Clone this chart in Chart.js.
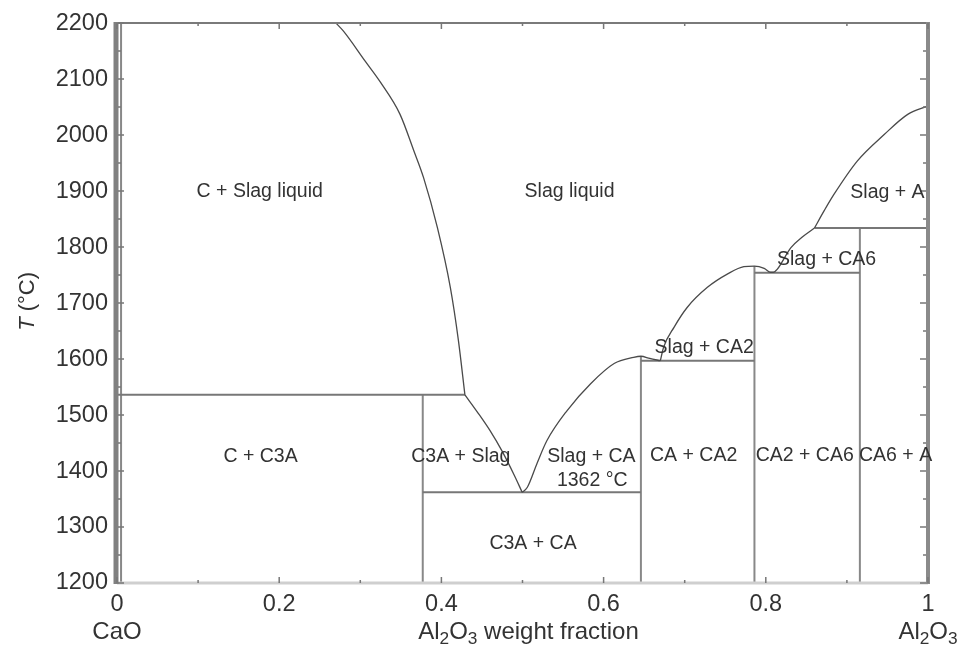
<!DOCTYPE html>
<html>
<head>
<meta charset="utf-8">
<script src="https://cdn.jsdelivr.net/npm/chart.js@4.4.1/dist/chart.umd.min.js"></script>
<style>
  html, body { margin: 0; padding: 0; background: #fff; }
  #wrap { width: 962px; height: 649px; }
</style>
</head>
<body>
<div id="wrap"><canvas id="phase_chart" width="962" height="649"></canvas></div>
<script>
// Al2O3 weight fraction vs temperature (°C)
const cLiquidus   = [[0.270, 2200], [0.279, 2186], [0.306, 2132], [0.325, 2094], [0.349, 2037], [0.366, 1972],
                     [0.378, 1924], [0.395, 1835], [0.411, 1728], [0.421, 1633], [0.429, 1536]];
const c3aLiquidus = [[0.429, 1536], [0.445, 1504], [0.460, 1472], [0.475, 1435], [0.490, 1392], [0.4996, 1362]];
const caLiquidus  = [[0.4996, 1362], [0.506, 1371], [0.518, 1414], [0.530, 1454], [0.555, 1508], [0.584, 1556],
                     [0.613, 1592], [0.637, 1603], [0.646, 1605], [0.657, 1601], [0.670, 1597]];
const ca2Liquidus = [[0.670, 1597], [0.674, 1621], [0.687, 1657], [0.703, 1692], [0.728, 1728], [0.753, 1752],
                     [0.773, 1765], [0.786, 1766], [0.798, 1762], [0.806, 1755], [0.810, 1755]];
const ca6Liquidus = [[0.810, 1755], [0.814, 1760], [0.831, 1799], [0.845, 1818], [0.860, 1834]];
const aLiquidus   = [[0.860, 1834], [0.872, 1865], [0.884, 1894], [0.913, 1954], [0.946, 2001], [0.975, 2037], [1.0, 2052]];

// invariant (horizontal) lines: [T, xFrom, xTo]
const isotherms = [[1536, 0, 0.429], [1362, 0.377, 0.646], [1597, 0.646, 0.786], [1754, 0.786, 0.916], [1834, 0.860, 1.0]];
// compound (vertical) lines: [x, Tfrom, Tto]
const compounds = [[0.005, 1200, 2200], [0.377, 1200, 1536], [0.646, 1200, 1605], [0.786, 1200, 1766], [0.916, 1200, 1834]];

// field labels: [text, x, T]
const fieldLabels = [
    ['C + Slag liquid', 0.176, 1899],
    ['Slag liquid', 0.558, 1899],
    ['C + C3A', 0.177, 1426],
    ['C3A + Slag', 0.424, 1426],
    ['Slag + CA', 0.585, 1426],
    ['1362 °C', 0.586, 1383],
    ['C3A + CA', 0.513, 1270],
    ['CA + CA2', 0.711, 1428],
    ['CA2 + CA6', 0.848, 1428],
    ['CA6 + A', 0.960, 1428],
    ['Slag + CA2', 0.724, 1620],
    ['Slag + CA6', 0.875, 1777],
    ['Slag + A', 0.950, 1897]
];

const xMin = 0, xMax = 1, xStep = 0.2;
const tMin = 1200, tMax = 2200, tStep = 100;

const FONT = '"Liberation Sans", Arial, sans-serif';

function toPoints(arr) {
    return arr.map(([x, y]) => ({ x: x, y: y }));
}

var datasets = [];
[cLiquidus, c3aLiquidus, caLiquidus, ca2Liquidus, ca6Liquidus, aLiquidus].forEach(function (curve) {
    datasets.push({ data: toPoints(curve), borderColor: '#4a4a4a', borderWidth: 1.3, cubicInterpolationMode: 'monotone' });
});
isotherms.forEach(function ([t, x0, x1]) {
    datasets.push({ data: [{ x: x0, y: t }, { x: x1, y: t }], borderColor: '#777', borderWidth: 2 });
});
compounds.forEach(function ([x, t0, t1]) {
    datasets.push({ data: [{ x: x, y: t0 }, { x: x, y: t1 }], borderColor: '#888', borderWidth: 2 });
});
datasets.forEach(function (d) {
    d.showLine = true;
    d.pointRadius = 0;
    d.fill = false;
});

// draws text pieces, some as subscripts, centred on cx
function drawRich(ctx, parts, cx, cy, size) {
    var total = 0;
    parts.forEach(function (p) {
        ctx.font = (p.sub ? size * 0.72 : size) + 'px ' + FONT;
        p.w = ctx.measureText(p.t).width;
        total += p.w;
    });
    var x = cx - total / 2;
    ctx.textAlign = 'left';
    parts.forEach(function (p) {
        ctx.font = (p.italic ? 'italic ' : '') + (p.sub ? size * 0.72 : size) + 'px ' + FONT;
        ctx.fillText(p.t, x, p.sub ? cy + size * 0.3 : cy);
        x += p.w;
    });
}

const framePlugin = {
    id: 'frame',
    afterDatasetsDraw(chart) {
        var ctx = chart.ctx, a = chart.chartArea;
        var xs = chart.scales.x, ys = chart.scales.y;
        ctx.save();

        // frame
        ctx.lineCap = 'butt';
        ctx.strokeStyle = '#cfcfcf'; ctx.lineWidth = 3;
        ctx.beginPath(); ctx.moveTo(a.left, a.bottom); ctx.lineTo(a.right, a.bottom); ctx.stroke();
        ctx.strokeStyle = '#7a7a7a'; ctx.lineWidth = 2;
        ctx.beginPath(); ctx.moveTo(a.left, a.top); ctx.lineTo(a.right, a.top); ctx.stroke();
        ctx.strokeStyle = '#8a8a8a'; ctx.lineWidth = 4;
        ctx.beginPath(); ctx.moveTo(a.right, a.top - 1); ctx.lineTo(a.right, a.bottom + 1); ctx.stroke();
        ctx.strokeStyle = '#808080'; ctx.lineWidth = 5;
        ctx.beginPath(); ctx.moveTo(a.left - 1, a.top - 1); ctx.lineTo(a.left - 1, a.bottom + 1); ctx.stroke();

        // inward ticks
        ctx.strokeStyle = '#777'; ctx.lineWidth = 1.5;
        for (var i = 0; i <= 10; i++) {
            var v = xMin + i * (xMax - xMin) / 10;
            var px = xs.getPixelForValue(v);
            var len = (i % 2 === 0) ? 6 : 3;
            ctx.beginPath();
            ctx.moveTo(px, a.bottom); ctx.lineTo(px, a.bottom - len);
            ctx.moveTo(px, a.top); ctx.lineTo(px, a.top + len);
            ctx.stroke();
        }
        for (var t = tMin; t <= tMax; t += tStep / 2) {
            var py = ys.getPixelForValue(t);
            var l2 = (t % tStep === 0) ? 6 : 3;
            ctx.beginPath();
            ctx.moveTo(a.left + 1, py); ctx.lineTo(a.left + 1 + l2, py);
            ctx.moveTo(a.right - 2, py); ctx.lineTo(a.right - 2 - l2, py);
            ctx.stroke();
        }

        // field labels
        ctx.fillStyle = '#333';
        ctx.font = '19.5px ' + FONT;
        ctx.textAlign = 'center';
        ctx.textBaseline = 'middle';
        fieldLabels.forEach(function ([txt, x, t]) {
            ctx.fillText(txt, xs.getPixelForValue(x), ys.getPixelForValue(t));
        });

        // axis titles
        ctx.fillStyle = '#333';
        drawRich(ctx, [{ t: 'Al' }, { t: '2', sub: true }, { t: 'O' }, { t: '3', sub: true }, { t: ' weight fraction' }],
            (a.left + a.right) / 2 + 6, a.bottom + 49, 24);
        drawRich(ctx, [{ t: 'CaO' }], a.left, a.bottom + 49, 24);
        drawRich(ctx, [{ t: 'Al' }, { t: '2', sub: true }, { t: 'O' }, { t: '3', sub: true }], a.right, a.bottom + 49, 24);

        ctx.translate(28, ys.getPixelForValue(1703));
        ctx.rotate(-Math.PI / 2);
        drawRich(ctx, [{ t: 'T', italic: true }, { t: ' (°C)' }], 0, 0, 22);
        ctx.restore();
    }
};

const ctx1 = document.getElementById('phase_chart').getContext('2d');
var chart1 = new Chart(ctx1, {
    type: 'scatter',
    data: { datasets: datasets },
    options: {
        responsive: false,
        animation: false,
        layout: { padding: { top: 22, right: 34, left: 0, bottom: 0 } },
        plugins: {
            legend: { display: false },
            tooltip: { enabled: false }
        },
        scales: {
            x: {
                type: 'linear',
                min: xMin,
                max: xMax,
                afterFit: function (s) { s.height = 66; },
                grid: { display: false, drawTicks: false },
                border: { display: false },
                ticks: {
                    stepSize: xStep,
                    padding: 7,
                    color: '#333',
                    font: { family: FONT, size: 23.5 },
                    callback: function (v) { return String(+v.toFixed(1)); }
                }
            },
            y: {
                type: 'linear',
                min: tMin,
                max: tMax,
                afterFit: function (s) { s.width = 117; },
                grid: { display: false, drawTicks: false },
                border: { display: false },
                ticks: {
                    stepSize: tStep,
                    padding: 9,
                    color: '#333',
                    font: { family: FONT, size: 23.5 },
                    callback: function (v) { return String(v); }
                }
            }
        }
    },
    plugins: [framePlugin]
});
</script>
</body>
</html>
